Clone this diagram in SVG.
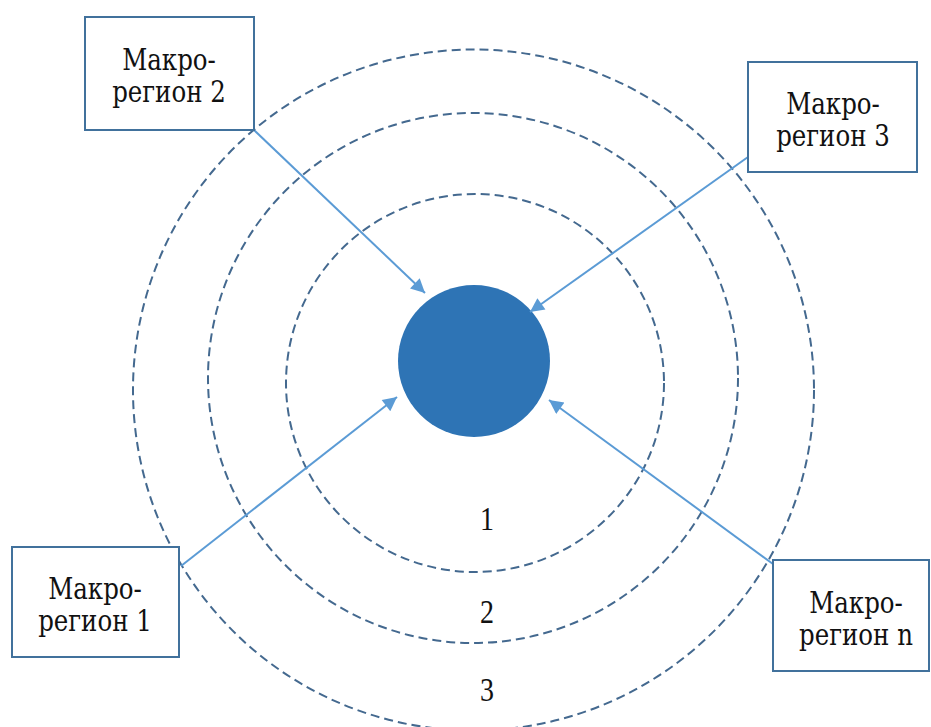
<svg xmlns="http://www.w3.org/2000/svg" width="931" height="727" viewBox="0 0 931 727">
<style>
.ring{fill:none;stroke:#44698F;stroke-width:2;stroke-dasharray:9 5}
.box{fill:#fff;stroke:#41719C;stroke-width:2}
.lbl{font-family:"DejaVu Serif","Liberation Serif",serif;font-size:24.5px;fill:#111;text-anchor:middle}
.num{font-family:"Liberation Serif","Times New Roman",serif;font-size:28px;fill:#111;text-anchor:middle}
.arr{stroke:#5B9BD5;stroke-width:2;fill:none;marker-end:url(#ah)}
</style>
<defs>
<marker id="ah" viewBox="0 0 10 10" refX="10" refY="5" markerWidth="8" markerHeight="7" orient="auto" markerUnits="strokeWidth">
<path d="M0,0 L10,5 L0,10 Z" fill="#5B9BD5"/>
</marker>
</defs>
<rect width="931" height="727" fill="#fff"/>
<g id="rings">
<circle class="ring" cx="473.5" cy="390" r="340.5"/>
<circle class="ring" cx="473" cy="378" r="265"/>
<circle class="ring" cx="475" cy="383" r="189"/>
</g>
<g id="zones">
<g transform="translate(487,530) scale(1,1.18)"><text class="num" x="0" y="0">1</text></g>
<g transform="translate(487,623) scale(1,1.18)"><text class="num" x="0" y="0">2</text></g>
<g transform="translate(487,701) scale(1,1.18)"><text class="num" x="0" y="0">3</text></g>
</g>
<g id="center">
<circle cx="474" cy="361" r="76" fill="#2E74B5"/>
</g>
<g id="connectors">
<line class="arr" x1="254" y1="130" x2="425" y2="293"/>
<line class="arr" x1="748" y1="157" x2="530" y2="312"/>
<line class="arr" x1="181" y1="566" x2="397" y2="397"/>
<line class="arr" x1="773" y1="564" x2="549" y2="400"/>
</g>
<g id="macro2">
<rect class="box" x="85" y="17" width="169" height="113"/>
<g transform="translate(169,70) scale(1,1.18)"><text class="lbl" x="0" y="0">Макро-</text><text class="lbl" x="0" y="27">регион 2</text></g>
</g>
<g id="macro3">
<rect class="box" x="748" y="62" width="169" height="110"/>
<g transform="translate(833,114) scale(1,1.18)"><text class="lbl" x="0" y="0">Макро-</text><text class="lbl" x="0" y="27">регион 3</text></g>
</g>
<g id="macro1">
<rect class="box" x="12" y="547" width="167" height="110"/>
<g transform="translate(95,599) scale(1,1.18)"><text class="lbl" x="0" y="0">Макро-</text><text class="lbl" x="0" y="27">регион 1</text></g>
</g>
<g id="macron">
<rect class="box" x="773" y="560" width="156" height="111"/>
<g transform="translate(856,613) scale(1,1.18)"><text class="lbl" x="0" y="0">Макро-</text><text class="lbl" x="0" y="27">регион n</text></g>
</g>
</svg>
